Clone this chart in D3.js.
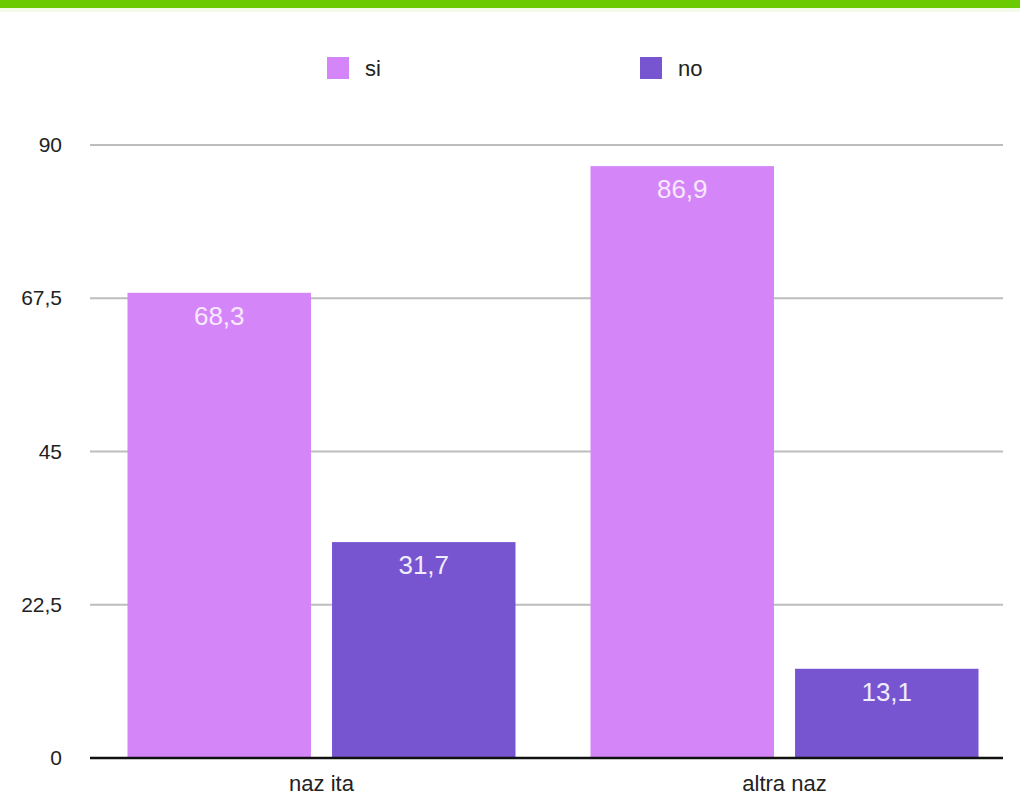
<!DOCTYPE html>
<html><head><meta charset="utf-8">
<script src="https://cdn.jsdelivr.net/npm/d3@7"></script>
<style>html,body{margin:0;padding:0;background:#fff;}svg{display:block;}</style>
</head><body>
<script>
const categories = ["naz ita", "altra naz"];
const seriesNames = ["si", "no"];
const siValues = [68.3, 86.9];
const noValues = [31.7, 13.1];
const valueLabels = [["68,3", "86,9"], ["31,7", "13,1"]];
const tickValues = [0, 22.5, 45, 67.5, 90];
const tickLabels = ["0", "22,5", "45", "67,5", "90"];
const colors = ["#d486f8", "#7755d1"];

const W = 1020, H = 809;
const svg = d3.select("body").append("svg").attr("width", W).attr("height", H);
const font = "'Liberation Sans', Arial, Helvetica, sans-serif";

// top green band
svg.append("rect").attr("x", 0).attr("y", 0).attr("width", W).attr("height", 8).attr("fill", "#6ccb00");
svg.append("rect").attr("x", 0).attr("y", 8).attr("width", W).attr("height", 4).attr("fill", "#f3fbe8");

const y = d3.scaleLinear().domain([0, 90]).range([758, 145]);
const x0 = d3.scaleBand().domain(categories).range([90, 1016]);
const x1 = d3.scaleBand().domain(seriesNames).range([37.5, 425.5]).paddingInner(0.103);

// gridlines
svg.append("g").selectAll("line").data(tickValues.filter(v => v > 0)).join("line")
  .attr("x1", 90).attr("x2", 1003)
  .attr("y1", d => y(d)).attr("y2", d => y(d))
  .attr("stroke", "#bdbdbd").attr("stroke-width", 2);

// tick labels via axis
const axis = d3.axisLeft(y).tickValues(tickValues).tickFormat((d, i) => tickLabels[i]).tickSize(0).tickPadding(0);
const ga = svg.append("g").attr("transform", "translate(62,0)").call(axis);
ga.select(".domain").remove();
ga.selectAll("text").attr("font-family", font).attr("font-size", 21).attr("fill", "#222");

const data = [siValues, noValues];
const groups = svg.append("g").selectAll("g").data(categories).join("g")
  .attr("transform", d => `translate(${x0(d)},0)`);
groups.selectAll("rect").data((c, ci) => seriesNames.map((s, si) => ({s, si, v: data[si][ci], lab: valueLabels[si][ci]})))
  .join("rect")
  .attr("x", d => x1(d.s)).attr("y", d => y(d.v)).attr("width", x1.bandwidth())
  .attr("height", d => y(0) - y(d.v)).attr("fill", d => colors[d.si]);
groups.selectAll("text").data((c, ci) => seriesNames.map((s, si) => ({s, si, v: data[si][ci], lab: valueLabels[si][ci]})))
  .join("text")
  .attr("x", d => x1(d.s) + x1.bandwidth() / 2).attr("y", d => y(d.v) + 32)
  .attr("text-anchor", "middle").attr("font-family", font).attr("font-size", 26)
  .attr("fill", d => d.si === 0 ? "#f8e8fc" : "#f0ecfa").text(d => d.lab);

// baseline
svg.append("line").attr("x1", 90).attr("x2", 1003).attr("y1", y(0)).attr("y2", y(0))
  .attr("stroke", "#111").attr("stroke-width", 2.5);

// category labels
const bx = d3.axisBottom(x0).tickSize(0).tickPadding(0);
const gb = svg.append("g").attr("transform", "translate(0,775)").call(bx);
gb.select(".domain").remove();
gb.selectAll("text").attr("font-family", font).attr("font-size", 22).attr("fill", "#222").attr("dy", "0.71em");

// legend
const legendX = [327, 640];
seriesNames.forEach((s, i) => {
  svg.append("rect").attr("x", legendX[i]).attr("y", 57).attr("width", 22).attr("height", 22).attr("fill", colors[i]);
  svg.append("text").attr("x", legendX[i] + 38).attr("y", 76).attr("font-family", font)
    .attr("font-size", 22).attr("fill", "#222").text(s);
});
</script>
</body></html>
